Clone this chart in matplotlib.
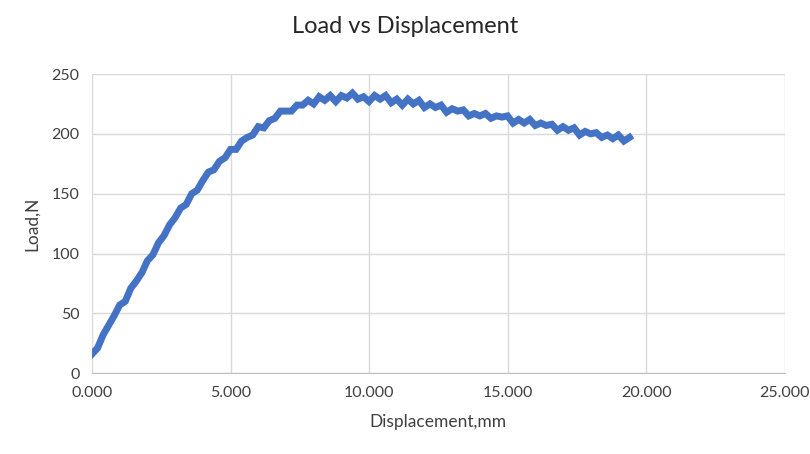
import numpy as np
import matplotlib.pyplot as plt

plt.rcParams['font.family'] = ['Lato', 'DejaVu Sans']

disp = [0.0, 0.2, 0.4, 0.6, 0.8, 1.0, 1.2, 1.4, 1.6, 1.8,
        2.0, 2.2, 2.4, 2.6, 2.8, 3.0, 3.2, 3.4, 3.6, 3.8,
        4.0, 4.2, 4.4, 4.6, 4.8, 5.0, 5.2, 5.4, 5.6, 5.8,
        6.0, 6.2, 6.4, 6.6, 6.8, 7.0, 7.2, 7.4, 7.6, 7.8,
        8.0, 8.2, 8.4, 8.6, 8.8, 9.0, 9.2, 9.4, 9.6, 9.8,
        10.0, 10.2, 10.4, 10.6, 10.8, 11.0, 11.2, 11.4, 11.6, 11.8,
        12.0, 12.2, 12.4, 12.6, 12.8, 13.0, 13.2, 13.4, 13.6, 13.8,
        14.0, 14.2, 14.4, 14.6, 14.8, 15.0, 15.2, 15.4, 15.6, 15.8,
        16.0, 16.2, 16.4, 16.6, 16.8, 17.0, 17.2, 17.4, 17.6, 17.8,
        18.0, 18.2, 18.4, 18.6, 18.8, 19.0, 19.2, 19.4]
load = [16, 21, 32, 40, 48, 57, 60, 71, 77, 84,
        94, 99, 109, 115, 124, 130, 138, 141, 150, 153,
        161, 168, 170, 177, 180, 187, 187, 194, 197, 199,
        206, 205, 211, 213, 219, 219, 219, 224, 224, 228,
        225, 231, 228, 232, 227, 232, 230, 234, 229, 231,
        227, 232, 229, 232, 226, 229, 224, 229, 225, 228,
        222, 225, 222, 224, 218, 221, 219, 220, 215, 217,
        215, 217, 213, 215, 214, 215, 209, 212, 209, 212,
        207, 209, 207, 208, 203, 206, 203, 205, 199, 202,
        200, 201, 197, 199, 196, 199, 194, 197]

fig = plt.figure(figsize=(8.1, 4.54), dpi=100)
ax = fig.add_axes([0.1136, 0.178, 0.855, 0.659])

ax.plot(disp, load, color='#4472C4', lw=5, solid_joinstyle='miter')

ax.set_xlim(0, 25)
ax.set_ylim(0, 250)
ax.set_xticks([0, 5, 10, 15, 20, 25])
ax.set_xticklabels(['0.000', '5.000', '10.000', '15.000', '20.000', '25.000'])
ax.set_yticks([0, 50, 100, 150, 200, 250])
ax.grid(True, color='#d9d9d9', lw=1)
ax.set_axisbelow(True)
for s in ['top', 'right', 'left']:
    ax.spines[s].set_visible(False)
ax.spines['bottom'].set_color('#bfbfbf')
ax.tick_params(length=0, labelsize=11.5, colors='#404040', pad=9)

ax.set_xlabel('Displacement,mm', fontsize=12.5, color='#404040', labelpad=10)
ax.set_ylabel('Load,N', fontsize=12.5, color='#404040', labelpad=8)
fig.suptitle('Load vs Displacement', fontsize=17, color='#262626', y=0.965)

fig.savefig('out.png')
